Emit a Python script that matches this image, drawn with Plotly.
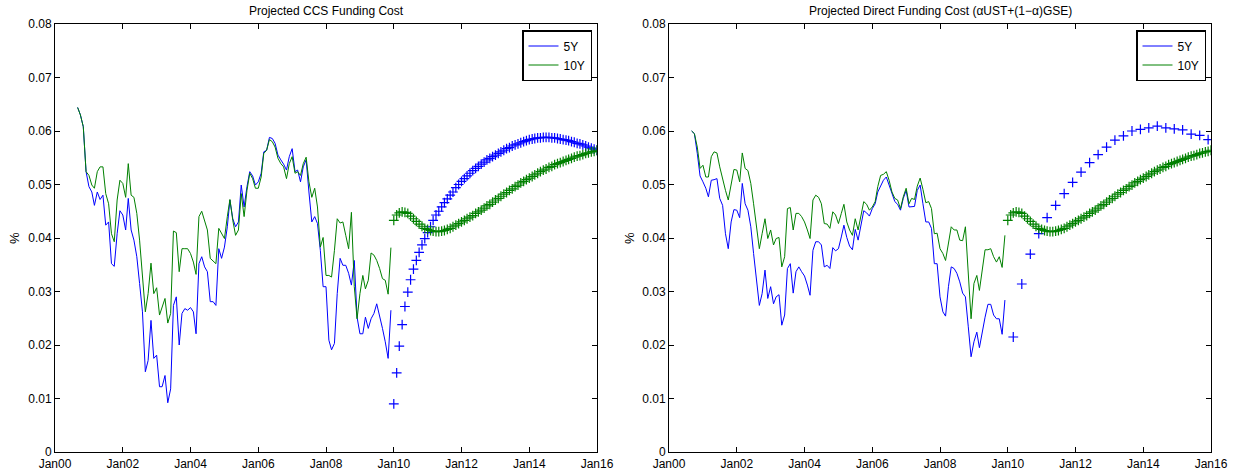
import pandas as pd
import plotly.graph_objects as go
from plotly.subplots import make_subplots

# monthly history Sep 2000 - Dec 2009
hist_dates = pd.date_range("2000-09-01", "2009-12-01", freq="MS")
# monthly projection Jan 2010 - Jan 2016
proj_dates = pd.date_range("2010-01-01", "2016-01-01", freq="MS")
# quarterly projection (direct 5Y) Mar 2010 - Dec 2015
proj_dates_q = pd.date_range("2010-03-01", "2015-12-01", freq="3MS")

ccs_5y = [
    0.0644, 0.0630, 0.0608, 0.0524,
    0.0496, 0.0486, 0.0461, 0.0486, 0.0472, 0.0480, 0.0424, 0.0430, 0.0352, 0.0347, 0.0408, 0.0451,
    0.0443, 0.0415, 0.0474, 0.0415, 0.0396, 0.0365, 0.0315, 0.0262, 0.0150, 0.0171, 0.0246, 0.0175,
    0.0181, 0.0122, 0.0122, 0.0143, 0.0092, 0.0118, 0.0274, 0.0290, 0.0200, 0.0259, 0.0268, 0.0265,
    0.0270, 0.0262, 0.0221, 0.0352, 0.0365, 0.0346, 0.0337, 0.0281, 0.0281, 0.0274, 0.0380, 0.0362,
    0.0383, 0.0421, 0.0471, 0.0436, 0.0421, 0.0430, 0.0499, 0.0458, 0.0496, 0.0524, 0.0516, 0.0499,
    0.0505, 0.0521, 0.0561, 0.0564, 0.0588, 0.0586, 0.0577, 0.0555, 0.0546, 0.0538, 0.0527, 0.0552,
    0.0567, 0.0524, 0.0527, 0.0505, 0.0533, 0.0546, 0.0486, 0.0430, 0.0440, 0.0427, 0.0377, 0.0309,
    0.0309, 0.0209, 0.0191, 0.0203, 0.0296, 0.0362, 0.0349, 0.0349, 0.0334, 0.0312, 0.0358, 0.0252,
    0.0221, 0.0221, 0.0252, 0.0231, 0.0249, 0.0259, 0.0277, 0.0256, 0.0231, 0.0206, 0.0175, 0.0265,
]
ccs_10y = [
    0.0644, 0.0630, 0.0608, 0.0524,
    0.0517, 0.0499, 0.0493, 0.0524, 0.0533, 0.0533, 0.0483, 0.0464, 0.0408, 0.0393, 0.0471, 0.0508,
    0.0502, 0.0476, 0.0539, 0.0480, 0.0476, 0.0446, 0.0396, 0.0334, 0.0262, 0.0296, 0.0353, 0.0296,
    0.0307, 0.0256, 0.0271, 0.0287, 0.0241, 0.0259, 0.0413, 0.0410, 0.0337, 0.0380, 0.0380, 0.0380,
    0.0371, 0.0355, 0.0332, 0.0440, 0.0450, 0.0433, 0.0415, 0.0362, 0.0357, 0.0352, 0.0418, 0.0408,
    0.0399, 0.0440, 0.0472, 0.0433, 0.0405, 0.0415, 0.0483, 0.0440, 0.0489, 0.0521, 0.0511, 0.0493,
    0.0493, 0.0514, 0.0558, 0.0564, 0.0584, 0.0580, 0.0570, 0.0549, 0.0539, 0.0533, 0.0511, 0.0539,
    0.0552, 0.0521, 0.0524, 0.0517, 0.0539, 0.0551, 0.0505, 0.0476, 0.0493, 0.0458, 0.0383, 0.0401,
    0.0330, 0.0330, 0.0327, 0.0377, 0.0436, 0.0428, 0.0430, 0.0405, 0.0380, 0.0448, 0.0309, 0.0249,
    0.0296, 0.0330, 0.0305, 0.0321, 0.0372, 0.0368, 0.0358, 0.0343, 0.0324, 0.0321, 0.0295, 0.0382,
]
direct_5y = [
    0.0600, 0.0595, 0.0558, 0.0516,
    0.0505, 0.0493, 0.0477, 0.0508, 0.0509, 0.0511, 0.0474, 0.0461, 0.0408, 0.0380, 0.0430, 0.0453,
    0.0452, 0.0438, 0.0502, 0.0464, 0.0452, 0.0421, 0.0371, 0.0327, 0.0274, 0.0296, 0.0340, 0.0287,
    0.0309, 0.0277, 0.0290, 0.0294, 0.0237, 0.0256, 0.0343, 0.0352, 0.0297, 0.0337, 0.0346, 0.0337,
    0.0329, 0.0312, 0.0293, 0.0377, 0.0393, 0.0393, 0.0387, 0.0346, 0.0349, 0.0343, 0.0382, 0.0376,
    0.0380, 0.0402, 0.0424, 0.0401, 0.0385, 0.0378, 0.0416, 0.0396, 0.0427, 0.0451, 0.0447, 0.0441,
    0.0455, 0.0464, 0.0486, 0.0499, 0.0508, 0.0514, 0.0499, 0.0483, 0.0468, 0.0463, 0.0452, 0.0474,
    0.0489, 0.0458, 0.0459, 0.0459, 0.0489, 0.0499, 0.0464, 0.0430, 0.0430, 0.0418, 0.0352, 0.0352,
    0.0290, 0.0262, 0.0254, 0.0309, 0.0346, 0.0343, 0.0334, 0.0318, 0.0297, 0.0290, 0.0234, 0.0178,
    0.0206, 0.0224, 0.0195, 0.0228, 0.0252, 0.0276, 0.0276, 0.0256, 0.0249, 0.0249, 0.0220, 0.0284,
]
direct_10y = [
    0.0600, 0.0595, 0.0570, 0.0530,
    0.0536, 0.0514, 0.0514, 0.0552, 0.0561, 0.0559, 0.0533, 0.0508, 0.0489, 0.0471, 0.0502, 0.0528,
    0.0527, 0.0505, 0.0559, 0.0530, 0.0526, 0.0502, 0.0464, 0.0421, 0.0380, 0.0408, 0.0436, 0.0399,
    0.0415, 0.0387, 0.0399, 0.0401, 0.0346, 0.0365, 0.0455, 0.0457, 0.0415, 0.0446, 0.0446, 0.0440,
    0.0430, 0.0415, 0.0399, 0.0471, 0.0480, 0.0476, 0.0464, 0.0427, 0.0426, 0.0418, 0.0449, 0.0443,
    0.0427, 0.0446, 0.0463, 0.0430, 0.0415, 0.0405, 0.0436, 0.0415, 0.0443, 0.0468, 0.0463, 0.0452,
    0.0458, 0.0468, 0.0496, 0.0517, 0.0519, 0.0524, 0.0508, 0.0486, 0.0474, 0.0471, 0.0455, 0.0477,
    0.0493, 0.0464, 0.0474, 0.0472, 0.0497, 0.0512, 0.0491, 0.0466, 0.0468, 0.0455, 0.0408, 0.0409,
    0.0380, 0.0371, 0.0358, 0.0387, 0.0421, 0.0415, 0.0415, 0.0396, 0.0395, 0.0421, 0.0334, 0.0249,
    0.0315, 0.0330, 0.0302, 0.0346, 0.0378, 0.0378, 0.0380, 0.0365, 0.0355, 0.0365, 0.0345, 0.0405,
]

proj_ccs_5y = [
    0.0090, 0.0148, 0.0198, 0.0238, 0.0272, 0.0299, 0.0322, 0.0342, 0.0358, 0.0373, 0.0387, 0.0399,
    0.0410, 0.0421, 0.0433, 0.0443, 0.0450, 0.0458, 0.0466, 0.0473, 0.0480, 0.0486, 0.0494, 0.0500,
    0.0506, 0.0511, 0.0516, 0.0521, 0.0526, 0.0530, 0.0534, 0.0538, 0.0542, 0.0546, 0.0549, 0.0552,
    0.0555, 0.0558, 0.0561, 0.0564, 0.0567, 0.0569, 0.0572, 0.0574, 0.0576, 0.0578, 0.0580, 0.0582,
    0.0584, 0.0585, 0.0586, 0.0587, 0.0587, 0.0588, 0.0588, 0.0588, 0.0587, 0.0587, 0.0586, 0.0585,
    0.0584, 0.0583, 0.0582, 0.0580, 0.0579, 0.0577, 0.0576, 0.0574, 0.0572, 0.0570, 0.0568, 0.0566,
    0.0564,
]
proj_10y = [
    0.0433, 0.0443, 0.0447, 0.0449, 0.0448, 0.0446, 0.0441, 0.0436, 0.0431, 0.0426, 0.0422, 0.0418,
    0.0416, 0.0414, 0.0413, 0.0412, 0.0412, 0.0413, 0.0414, 0.0416, 0.0418, 0.0421, 0.0424, 0.0427,
    0.0430, 0.0433, 0.0436, 0.0439, 0.0442, 0.0446, 0.0449, 0.0452, 0.0456, 0.0460, 0.0463, 0.0467,
    0.0471, 0.0474, 0.0478, 0.0482, 0.0485, 0.0489, 0.0492, 0.0496, 0.0499, 0.0503, 0.0506, 0.0509,
    0.0512, 0.0515, 0.0518, 0.0521, 0.0524, 0.0527, 0.0529, 0.0532, 0.0534, 0.0537, 0.0539, 0.0541,
    0.0543, 0.0545, 0.0547, 0.0549, 0.0551, 0.0553, 0.0554, 0.0556, 0.0558, 0.0559, 0.0561, 0.0562,
    0.0564,
]
proj_direct_5y = [
    0.0215, 0.0314, 0.0370, 0.0408, 0.0438, 0.0461, 0.0483, 0.0504, 0.0523, 0.0541, 0.0556, 0.0570,
    0.0583, 0.0591, 0.0600, 0.0603, 0.0606, 0.0609, 0.0606, 0.0604, 0.0602, 0.0594, 0.0592, 0.0584,
]

BLUE = "#0000ff"
GREEN = "#008000"
W, H = 1238, 472

def px_x(p):
    return p / W

def px_y(p):  # pixel from top -> paper y
    return 1 - p / H

fig = make_subplots(rows=1, cols=2)

def add_panel(col, h5, h10, p5_x, p5_y, p10_y, legend):
    fig.add_trace(go.Scatter(x=hist_dates, y=h5, mode="lines", name="5Y",
                             line=dict(color=BLUE, width=1), legend=legend), row=1, col=col)
    fig.add_trace(go.Scatter(x=hist_dates, y=h10, mode="lines", name="10Y",
                             line=dict(color=GREEN, width=1), legend=legend), row=1, col=col)
    fig.add_trace(go.Scatter(x=p5_x, y=p5_y, mode="markers", showlegend=False,
                             marker=dict(symbol="cross-thin", size=7, color=BLUE,
                                         line=dict(color=BLUE, width=1.2))), row=1, col=col)
    fig.add_trace(go.Scatter(x=proj_dates, y=p10_y, mode="markers", showlegend=False,
                             marker=dict(symbol="cross-thin", size=7, color=GREEN,
                                         line=dict(color=GREEN, width=1.2))), row=1, col=col)

add_panel(1, ccs_5y, ccs_10y, proj_dates, proj_ccs_5y, proj_10y, "legend")
add_panel(2, direct_5y, direct_10y, proj_dates_q, proj_direct_5y, proj_10y, "legend2")

axis_common = dict(showline=True, linecolor="black", linewidth=1, mirror="allticks",
                   ticks="inside", ticklen=5, tickcolor="black", showgrid=False,
                   zeroline=False, automargin=False,
                   tickfont=dict(size=12, color="black"))

fig.update_xaxes(range=["2000-01-01", "2016-01-01"], tick0="2000-01-01", dtick="M24",
                 tickformat="%b%y", ticklabelstandoff=1, **axis_common)
fig.update_yaxes(range=[0, 0.08], dtick=0.01, **axis_common)

legend_style = dict(xanchor="right", y=px_y(30), yanchor="top",
                    bordercolor="black", borderwidth=1.5, bgcolor="white",
                    font=dict(size=12), tracegroupgap=0)

fig.update_layout(
    width=W, height=H,
    margin=dict(l=0, r=0, t=0, b=0),
    paper_bgcolor="white", plot_bgcolor="white",
    font=dict(family="Liberation Sans, Arial, Helvetica, sans-serif", size=12, color="black"),
    xaxis=dict(domain=[px_x(55), px_x(597)]),
    xaxis2=dict(domain=[px_x(669), px_x(1211)]),
    yaxis=dict(domain=[px_y(452), px_y(24)]),
    yaxis2=dict(domain=[px_y(452), px_y(24)]),
    legend=dict(x=px_x(592), **legend_style),
    legend2=dict(x=px_x(1206), **legend_style),
    showlegend=True,
)

titles = ["Projected CCS Funding Cost",
          "Projected Direct Funding Cost (\u03b1UST+(1\u2212\u03b1)GSE)"]
for cx, t in zip([326, 940], titles):
    fig.add_annotation(text=t, x=px_x(cx), y=px_y(11), xref="paper", yref="paper",
                       showarrow=False, font=dict(size=12), xanchor="center", yanchor="middle")
for px in [14, 629]:
    fig.add_annotation(text="%", x=px_x(px), y=px_y(238), xref="paper", yref="paper",
                       showarrow=False, textangle=-90, font=dict(size=13),
                       xanchor="center", yanchor="middle")

# drop the default body margin so the figure sits at the window's top-left corner
fig.write_html("out.html", config={"displayModeBar": False},
               post_script="document.body.style.margin='0';document.body.style.overflow='hidden';")
